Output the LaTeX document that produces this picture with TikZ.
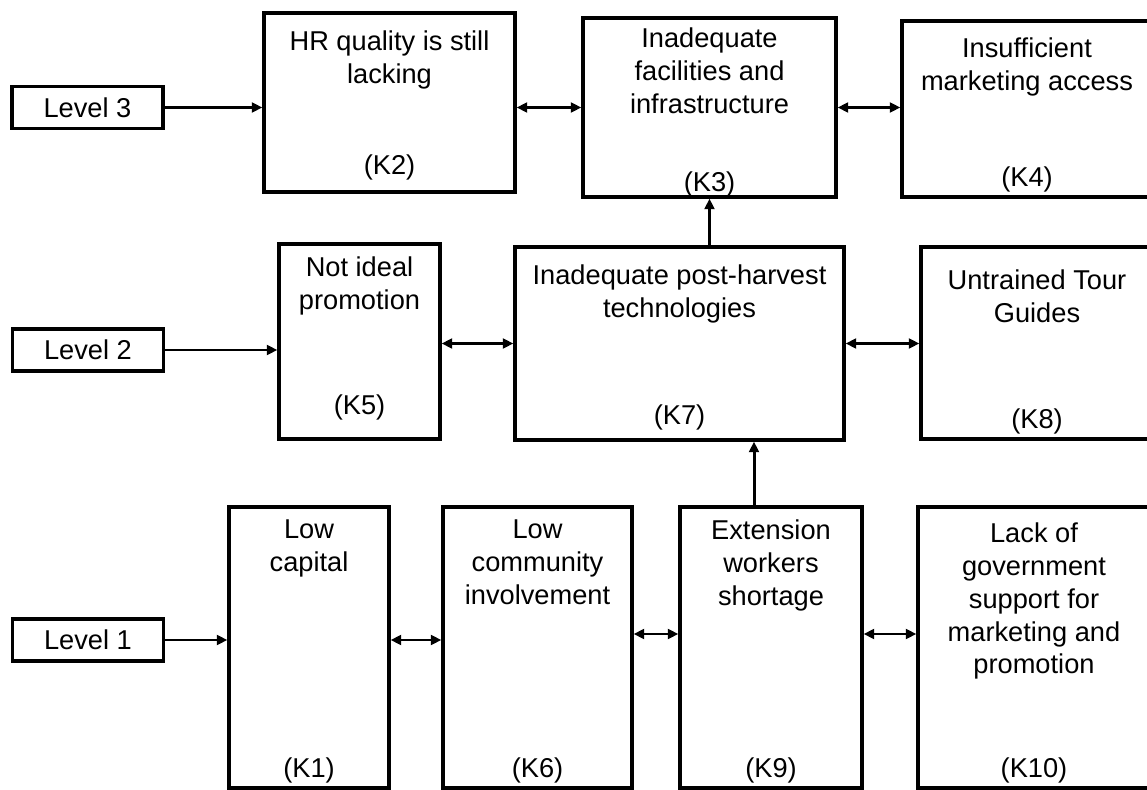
\documentclass[tikz,border=0pt]{standalone}
\usepackage{fontspec}
\setmainfont{Liberation Sans}
\usetikzlibrary{arrows.meta}

\begin{document}
\begin{tikzpicture}[
        font=\fontsize{15.5}{18.7}\selectfont,
        box_style/.style={draw, line width=1.8pt, inner sep=0pt},
        level_style/.style={draw, line width=1.8pt, minimum width=3.02cm, minimum height=0.84cm, inner sep=0pt},
        title_style/.style={anchor=north, align=center, inner sep=0.28cm},
        code_style/.style={anchor=south, inner sep=0.13cm},
        flow_style/.style={line width=1.7pt, -{Triangle[length=6pt,width=5.5pt]}},
        link_style/.style={line width=1.7pt, {Triangle[length=6pt,width=5.5pt]}-{Triangle[length=6pt,width=5.5pt]}}
    ]
        \useasboundingbox (0,0) rectangle (22.94,15.78);

        % Coordinates
        \coordinate (c_l3) at (1.75,13.63);
        \coordinate (c_l2) at (1.76,8.78);
        \coordinate (c_l1) at (1.76,2.98);
        \coordinate (c2) at (7.79,13.73);
        \coordinate (c3) at (14.19,13.63);
        \coordinate (c4) at (20.54,13.60);
        \coordinate (c5) at (7.19,8.95);
        \coordinate (c7) at (13.59,8.91);
        \coordinate (c8) at (20.74,8.92);
        \coordinate (c1) at (6.18,2.83);
        \coordinate (c6) at (10.75,2.83);
        \coordinate (c9) at (15.42,2.83);
        \coordinate (c10) at (20.68,2.83);
        \coordinate (mid1) at (0,3.10);

        % Level boxes
        \node[level_style] (l3) at (c_l3) {Level 3};
        \node[level_style] (l2) at (c_l2) {Level 2};
        \node[level_style] (l1) at (c_l1) {Level 1};

        % Level 3 boxes
        \node[box_style, minimum width=5.02cm, minimum height=3.58cm,
            label={[title_style, yshift=-0.1cm]north:HR quality is still\\lacking},
            label={[code_style, yshift=0.14cm]south:(K2)}] (k2) at (c2) {};
        \node[box_style, minimum width=5.06cm, minimum height=3.58cm,
            label={[title_style, yshift=0.06cm]north:Inadequate\\facilities and\\infrastructure},
            label={[code_style, yshift=-0.1cm]south:(K3)}] (k3) at (c3) {};
        \node[box_style, minimum width=5.00cm, minimum height=3.52cm,
            label={[title_style, yshift=-0.08cm]north:Insufficient\\marketing access},
            label={[code_style]south:(K4)}] (k4) at (c4) {};

        % Level 2 boxes
        \node[box_style, minimum width=3.22cm, minimum height=3.90cm,
            label={[title_style]north:Not ideal\\promotion},
            label={[code_style, yshift=0.28cm]south:(K5)}] (k5) at (c5) {};
        \node[box_style, minimum width=6.58cm, minimum height=3.86cm,
            label={[title_style, yshift=-0.1cm]north:Inadequate post-harvest\\technologies},
            label={[code_style, yshift=0.1cm]south:(K7)}] (k7) at (c7) {};
        \node[box_style, minimum width=4.64cm, minimum height=3.84cm,
            label={[title_style, yshift=-0.2cm]north:Untrained Tour\\Guides},
            label={[code_style]south:(K8)}] (k8) at (c8) {};

        % Level 1 boxes
        \node[box_style, minimum width=3.20cm, minimum height=5.62cm,
            label={[title_style]north:Low\\capital},
            label={[code_style]south:(K1)}] (k1) at (c1) {};
        \node[box_style, minimum width=3.78cm, minimum height=5.62cm,
            label={[title_style]north:Low\\community\\involvement},
            label={[code_style]south:(K6)}] (k6) at (c6) {};
        \node[box_style, minimum width=3.64cm, minimum height=5.62cm,
            label={[title_style]north:Extension\\workers\\shortage},
            label={[code_style]south:(K9)}] (k9) at (c9) {};
        \node[box_style, minimum width=4.64cm, minimum height=5.62cm,
            label={[title_style, yshift=-0.06cm]north:Lack of\\government\\support for\\marketing and\\promotion},
            label={[code_style]south:(K10)}] (k10) at (c10) {};

        % Arrows
        \draw[flow_style] (l3) -- (k2.west |- l3);
        \draw[link_style] (k2.east |- k3) -- (k3.west);
        \draw[link_style] (k3.east) -- (k3.east -| k4.west);
        \draw[flow_style] (k7.north -| k3) -- (k3.south);

        \draw[flow_style] (l2) -- (k5.west |- l2);
        \draw[link_style] (k5.east |- k7) -- (k7.west);
        \draw[link_style] (k7.east) -- (k7.east -| k8.west);
        \draw[flow_style] ([xshift=-0.34cm]k9.north) -- ([xshift=-0.34cm]k9.north |- k7.south);

        \draw[flow_style] (l1) -- (k1.west |- l1);
        \draw[link_style] (k1.east |- l1) -- (k6.west |- l1);
        \draw[link_style] (k6.east |- mid1) -- (k9.west |- mid1);
        \draw[link_style] (k9.east |- mid1) -- (k10.west |- mid1);
\end{tikzpicture}
\end{document}
